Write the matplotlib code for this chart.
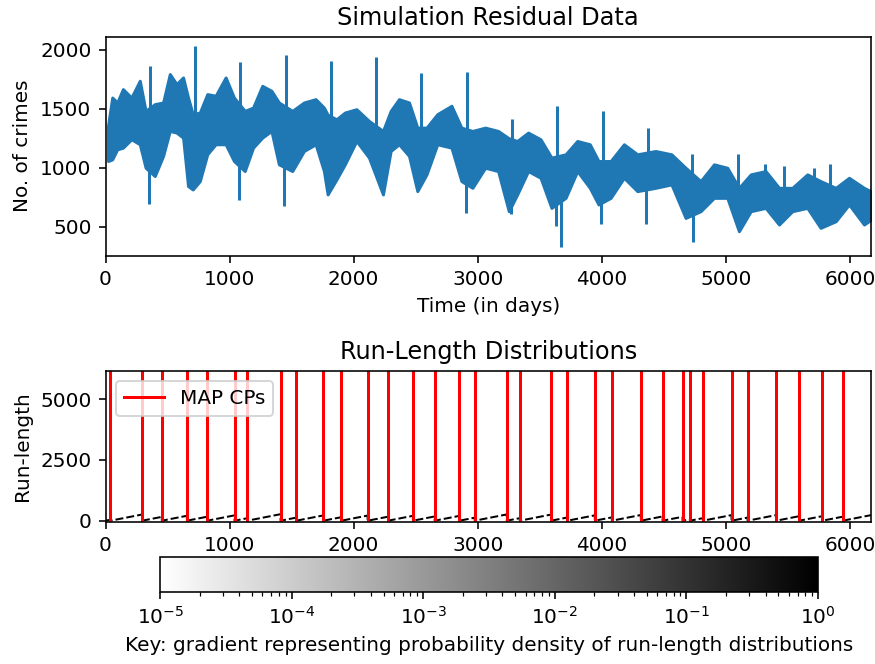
import numpy as np
import matplotlib.pyplot as plt
from matplotlib.colors import LogNorm
from matplotlib.cm import ScalarMappable

T = 6170

# daily crime counts, summarised as low/high range per window (day = window centre)
win_day = [20, 54, 94, 140, 208, 276, 323, 397, 464, 518, 572, 625, 665, 703, 760,
           820, 887, 968, 1035, 1122, 1189, 1263, 1337, 1397, 1505, 1599, 1693, 1760,
           1790, 1861, 1929, 2022, 2123, 2236, 2298, 2365, 2446, 2513, 2587, 2674, 2788,
           2868, 2957, 3060, 3164, 3250, 3318, 3406, 3506, 3594, 3708, 3802, 3903, 3973,
           4071, 4178, 4286, 4433, 4561, 4675, 4796, 4904, 5011, 5105, 5200, 5320, 5428,
           5535, 5656, 5763, 5885, 5992, 6113, 6170]
win_lo = [1057, 1071, 1156, 1170, 1241, 1199, 1000, 930, 1100, 1312, 1298, 1255, 845, 816,
          887, 1114, 1199, 1199, 1057, 972, 1170, 1255, 1312, 1029, 972, 1142, 1199, 972,
          774, 901, 1029, 1227, 1086, 774, 1142, 1199, 1100, 802, 944, 1199, 1170, 887, 830,
          1000, 972, 632, 774, 972, 915, 660, 745, 972, 830, 689, 745, 915, 802, 830, 859,
          575, 632, 745, 745, 462, 632, 660, 519, 632, 660, 491, 547, 689, 519, 560]
win_hi = [1355, 1595, 1553, 1666, 1595, 1737, 1482, 1539, 1553, 1794, 1709, 1765, 1595, 1454,
          1468, 1624, 1610, 1765, 1595, 1482, 1510, 1694, 1652, 1553, 1482, 1553, 1581, 1510,
          1450, 1411, 1468, 1496, 1397, 1312, 1482, 1581, 1553, 1340, 1340, 1454, 1525, 1340,
          1312, 1340, 1312, 1250, 1227, 1298, 1241, 1086, 1114, 1227, 1199, 1057, 1057, 1199,
          1114, 1142, 1114, 1000, 887, 1029, 1000, 830, 944, 972, 830, 830, 944, 887, 830,
          915, 830, 800]

# single-day outliers (holidays)
spike_day = [350, 355, 720, 1075, 1083, 1440, 1451, 1814, 2179, 2545, 2902, 2910, 3265,
             3273, 3630, 3641, 3668, 3996, 4006, 4358, 4372, 4724, 4737, 5100, 5315, 5468,
             5710, 5836]
spike_val = [694, 1864, 2029, 731, 1893, 675, 1958, 1907, 1941, 1802, 618, 1808, 610,
             1411, 505, 1525, 326, 525, 1482, 525, 1340, 1119, 371, 1114, 1029, 1015,
             1000, 1034]

# MAP change points
cp_days = [40, 296, 454, 656, 820, 1040, 1143, 1411, 1538, 1756, 1901, 2113, 2277, 2478,
           2653, 2852, 2976, 3234, 3339, 3591, 3723, 3944, 4081, 4315, 4490, 4651, 4710,
           4815, 5046, 5175, 5406, 5591, 5777, 5941]

dpi = 144
fig = plt.figure(figsize=(875 / dpi, 664 / dpi), dpi=dpi)
ax1 = fig.add_axes([0.1206, 0.6149, 0.8749, 0.3298])
ax2 = fig.add_axes([0.1206, 0.2134, 0.8749, 0.2283])
cax = fig.add_axes([0.1829, 0.1084, 0.752, 0.0527])

c = '#1f77b4'
ax1.fill_between(win_day, win_lo, win_hi, color=c, lw=1.5, edgecolor=c)
mid = np.interp(spike_day, win_day, (np.array(win_lo) + np.array(win_hi)) / 2)
ax1.vlines(spike_day, mid, spike_val, color=c, lw=1.5)
ax1.set_xlim(0, T)
ax1.set_ylim(255, 2110)
ax1.set_title('Simulation Residual Data')
ax1.set_xlabel('Time (in days)')
ax1.set_ylabel('No. of crimes')

# run-length implied by the change points
t = np.arange(T)
idx = np.searchsorted(cp_days, t, side='right')
last = np.where(idx > 0, np.array([0] + cp_days)[idx], 0)
rl = t - last
ax2.plot(t, rl, color='black', lw=1.0, linestyle=(0, (4, 1.5)))
for i, d in enumerate(cp_days):
    ax2.axvline(d, color='red', lw=1.5, label='MAP CPs' if i == 0 else None)
ax2.set_xlim(0, T)
ax2.set_ylim(-66, 6163)
ax2.set_yticks([0, 2500, 5000])
ax2.set_title('Run-Length Distributions')
ax2.set_ylabel('Run-length')
ax2.legend(loc='upper left')

sm = ScalarMappable(norm=LogNorm(1e-5, 1), cmap='gray_r')
cb = fig.colorbar(sm, cax=cax, orientation='horizontal')
cb.set_label('Key: gradient representing probability density of run-length distributions')

fig.savefig('out.png', dpi=dpi)
